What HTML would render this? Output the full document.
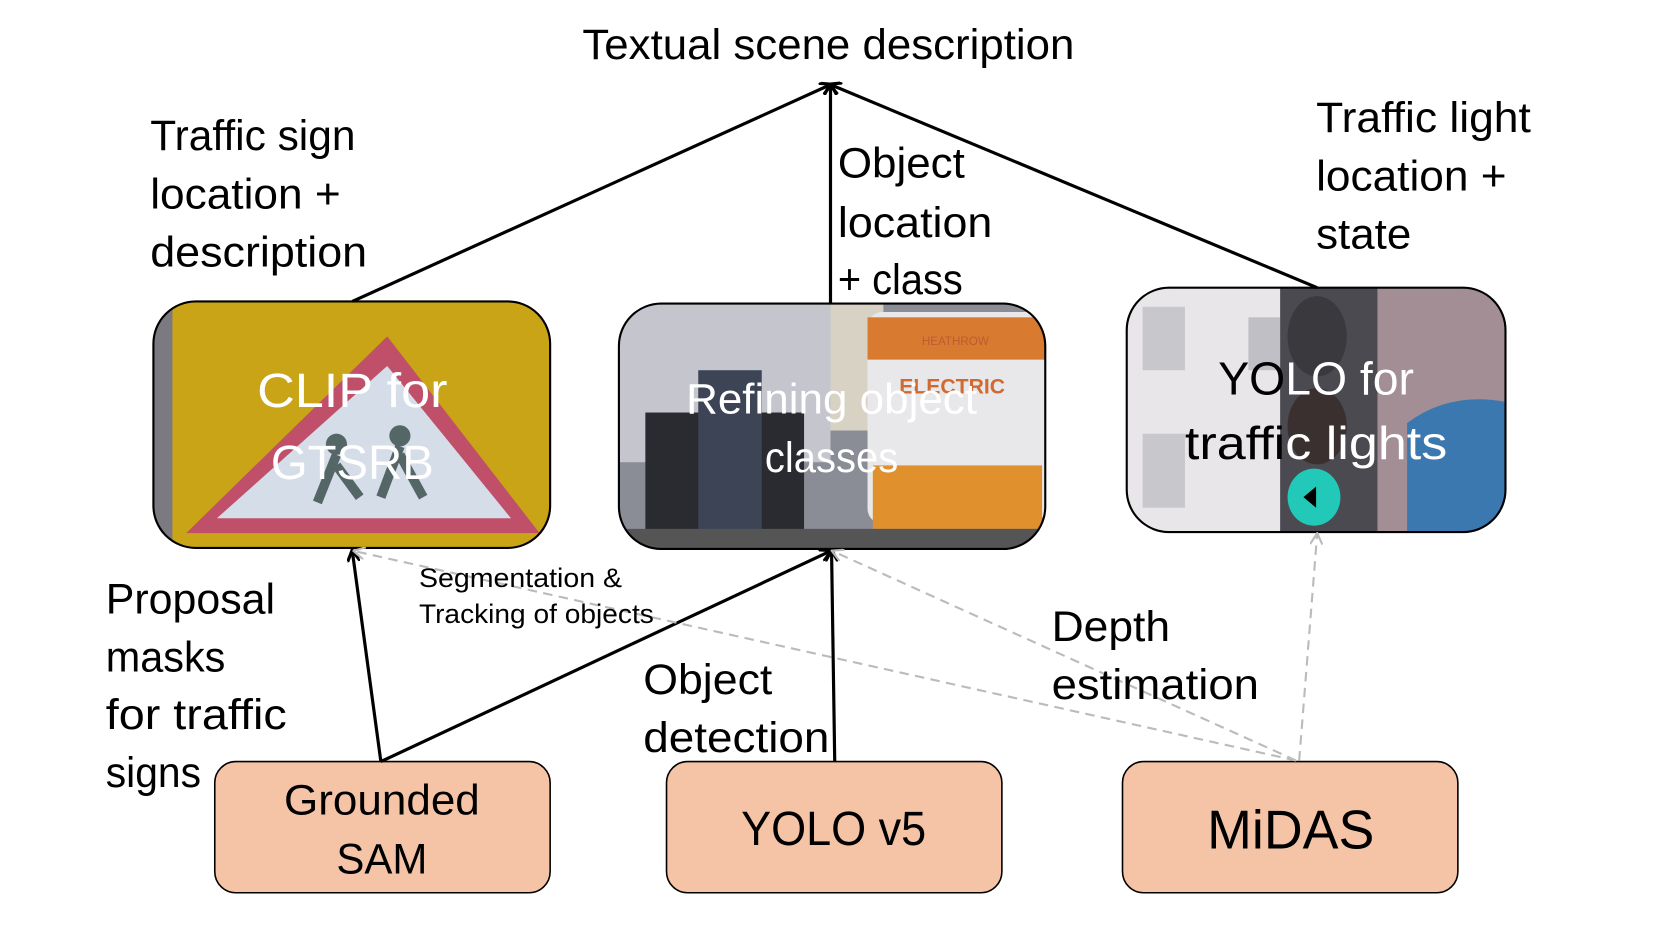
<!DOCTYPE html>
<html><head><meta charset="utf-8"><style>
html,body{margin:0;padding:0;background:#fff;width:1661px;height:934px;overflow:hidden}
svg{display:block}
text{font-family:"Liberation Sans",sans-serif}
</style></head><body>
<svg width="1661" height="934" viewBox="0 0 1570 883" preserveAspectRatio="none" xmlns="http://www.w3.org/2000/svg">
<defs>
<marker id="ah" markerWidth="12" markerHeight="12" refX="10" refY="6" orient="auto" markerUnits="userSpaceOnUse"><path d="M0,0 L11,6 L0,12" fill="none" stroke="#000" stroke-width="3"/></marker>
<marker id="ahg" markerWidth="12" markerHeight="12" refX="10" refY="6" orient="auto" markerUnits="userSpaceOnUse"><path d="M0,0 L11,6 L0,12" fill="none" stroke="#bbb" stroke-width="2"/></marker>
<clipPath id="c1"><rect x="145" y="285" width="375" height="233" rx="40"/></clipPath>
<clipPath id="c2"><rect x="585" y="287" width="403" height="232" rx="40"/></clipPath>
<clipPath id="c3"><rect x="1065" y="272" width="358" height="231" rx="40"/></clipPath>
<linearGradient id="bw" gradientUnits="userSpaceOnUse" x1="1000" y1="0" x2="1500" y2="0">
<stop offset="0.426" stop-color="#000"/><stop offset="0.426" stop-color="#fff"/>
</linearGradient>
</defs>

<!-- Box 1 CLIP -->
<g clip-path="url(#c1)">
<rect x="145" y="285" width="375" height="233" fill="#c9a416"/>
<rect x="145" y="285" width="18" height="233" fill="#7a7a80"/>
<polygon points="366,318 510,504 176,504" fill="#c0506a"/>
<polygon points="366,346 483,490 205,490" fill="#d5dde8"/>
<circle cx="318" cy="420" r="10" fill="#566"/><circle cx="378" cy="412" r="10" fill="#566"/>
<path d="M318,430 L300,475 M318,440 L340,470 M378,422 L360,470 M378,430 L400,470" stroke="#566" stroke-width="9"/>
</g>
<rect x="145" y="285" width="375" height="233" rx="40" fill="none" stroke="#000" stroke-width="2"/>
<text x="333" y="385" font-size="46" fill="#fff" text-anchor="middle" textLength="180" lengthAdjust="spacingAndGlyphs">CLIP for</text>
<text x="333" y="453" font-size="46" fill="#fff" text-anchor="middle" textLength="154" lengthAdjust="spacingAndGlyphs">GTSRB</text>

<!-- Box 2 street -->
<g clip-path="url(#c2)">
<rect x="585" y="287" width="403" height="232" fill="#8a8c96"/>
<rect x="585" y="287" width="200" height="150" fill="#c4c5cd"/>
<rect x="785" y="287" width="50" height="120" fill="#d8d2c4"/>
<rect x="610" y="390" width="150" height="130" fill="#2a2b30"/>
<rect x="660" y="350" width="60" height="170" fill="#3c4456"/>
<rect x="820" y="295" width="168" height="200" rx="14" fill="#e8e8ea"/>
<rect x="820" y="300" width="168" height="40" fill="#d87a30"/>
<rect x="825" y="440" width="160" height="60" fill="#e0902c"/>
<text x="903" y="326" font-size="11" fill="#c05a30" text-anchor="middle">HEATHROW</text>
<text x="900" y="372" font-size="20" fill="#d06a30" text-anchor="middle" font-weight="bold">ELECTRIC</text>
<rect x="585" y="500" width="403" height="19" fill="#555"/>
</g>
<rect x="585" y="287" width="403" height="232" rx="40" fill="none" stroke="#000" stroke-width="2"/>
<text x="786" y="391" font-size="40" fill="#fff" text-anchor="middle" textLength="275" lengthAdjust="spacingAndGlyphs">Refining object</text>
<text x="786" y="446" font-size="40" fill="#fff" text-anchor="middle" textLength="126" lengthAdjust="spacingAndGlyphs">classes</text>

<!-- Box 3 traffic light -->
<g clip-path="url(#c3)">
<rect x="1065" y="272" width="358" height="231" fill="#e9e6ea"/>
<rect x="1300" y="272" width="123" height="231" fill="#a48e96"/>
<rect x="1080" y="290" width="40" height="60" fill="#c8c8cc"/>
<rect x="1080" y="410" width="40" height="70" fill="#c8c8cc"/>
<rect x="1180" y="300" width="30" height="50" fill="#bfbfc5"/>
<path d="M1330,503 L1330,400 Q1370,370 1423,380 L1423,503 Z" fill="#3c78b0"/>
<rect x="1210" y="272" width="92" height="231" fill="#4a4a50"/>
<ellipse cx="1245" cy="318" rx="28" ry="38" fill="#3a3a3e"/>
<ellipse cx="1245" cy="403" rx="28" ry="36" fill="#3a3030"/>
<ellipse cx="1242" cy="470" rx="25" ry="27" fill="#22c8b8"/>
<path d="M1232,470 L1244,460 L1244,480 Z" fill="#000"/>
</g>
<rect x="1065" y="272" width="358" height="231" rx="40" fill="none" stroke="#000" stroke-width="2"/>
<text x="1244" y="373" font-size="44" text-anchor="middle" textLength="185" lengthAdjust="spacingAndGlyphs" fill="url(#bw)">YOLO for</text>
<text x="1244" y="434" font-size="44" text-anchor="middle" textLength="248" lengthAdjust="spacingAndGlyphs" fill="url(#bw)">traffic lights</text>

<!-- Bottom boxes -->
<rect x="203" y="720" width="317" height="124" rx="20" fill="#f5c4a6" stroke="#000" stroke-width="1.5"/>
<rect x="630" y="720" width="317" height="124" rx="20" fill="#f5c4a6" stroke="#000" stroke-width="1.5"/>
<rect x="1061" y="720" width="317" height="124" rx="20" fill="#f5c4a6" stroke="#000" stroke-width="1.5"/>
<g lengthAdjust="spacingAndGlyphs">
<text x="361" y="770" font-size="40" text-anchor="middle" textLength="185" lengthAdjust="spacingAndGlyphs">Grounded</text>
<text x="361" y="826" font-size="40" text-anchor="middle" textLength="86" lengthAdjust="spacingAndGlyphs">SAM</text>
<text x="788" y="799" font-size="46" text-anchor="middle" textLength="175" lengthAdjust="spacingAndGlyphs">YOLO v5</text>
<text x="1220" y="802" font-size="52" text-anchor="middle" textLength="158" lengthAdjust="spacingAndGlyphs">MiDAS</text>
</g>

<!-- Connectors -->
<g stroke="#000" stroke-width="3" fill="none">
<line x1="333" y1="285" x2="785" y2="80" marker-end="url(#ah)"/>
<line x1="785" y1="287" x2="785" y2="80" marker-end="url(#ah)"/>
<line x1="1245" y1="272" x2="785" y2="80" marker-end="url(#ah)"/>
<line x1="360" y1="720" x2="333" y2="521" marker-end="url(#ah)"/>
<line x1="360" y1="720" x2="785" y2="521" marker-end="url(#ah)"/>
<line x1="789" y1="720" x2="786" y2="521" marker-end="url(#ah)"/>
</g>
<g stroke="#bbb" stroke-width="2" stroke-dasharray="9,6" fill="none">
<line x1="1225" y1="719" x2="335" y2="521" marker-end="url(#ahg)"/>
<line x1="1225" y1="719" x2="787" y2="521" marker-end="url(#ahg)"/>
<line x1="1228" y1="719" x2="1245" y2="505" marker-end="url(#ahg)"/>
</g>

<!-- Labels -->
<text x="783" y="56" font-size="40" text-anchor="middle" textLength="465" lengthAdjust="spacingAndGlyphs">Textual scene description</text>
<g font-size="40">
<text x="142" y="142" textLength="194" lengthAdjust="spacingAndGlyphs">Traffic sign</text>
<text x="142" y="197" textLength="180" lengthAdjust="spacingAndGlyphs">location +</text>
<text x="142" y="252" textLength="205" lengthAdjust="spacingAndGlyphs">description</text>
<text x="792" y="168" textLength="120" lengthAdjust="spacingAndGlyphs">Object</text>
<text x="792" y="224" textLength="146" lengthAdjust="spacingAndGlyphs">location</text>
<text x="792" y="278" textLength="118" lengthAdjust="spacingAndGlyphs">+ class</text>
<text x="1244" y="125" textLength="203" lengthAdjust="spacingAndGlyphs">Traffic light</text>
<text x="1244" y="180" textLength="180" lengthAdjust="spacingAndGlyphs">location +</text>
<text x="1244" y="235" textLength="90" lengthAdjust="spacingAndGlyphs">state</text>
<text x="100" y="580" textLength="160" lengthAdjust="spacingAndGlyphs">Proposal</text>
<text x="100" y="635" textLength="113" lengthAdjust="spacingAndGlyphs">masks</text>
<text x="100" y="689" textLength="171" lengthAdjust="spacingAndGlyphs">for traffic</text>
<text x="100" y="744" textLength="90" lengthAdjust="spacingAndGlyphs">signs</text>
<text x="608" y="656" textLength="122" lengthAdjust="spacingAndGlyphs">Object</text>
<text x="608" y="711" textLength="176" lengthAdjust="spacingAndGlyphs">detection</text>
<text x="994" y="606" textLength="112" lengthAdjust="spacingAndGlyphs">Depth</text>
<text x="994" y="661" textLength="196" lengthAdjust="spacingAndGlyphs">estimation</text>
</g>
<text x="396" y="555" font-size="25" textLength="192" lengthAdjust="spacingAndGlyphs">Segmentation &amp;</text>
<text x="396" y="589" font-size="25" textLength="222" lengthAdjust="spacingAndGlyphs">Tracking of objects</text>
</svg>
</body></html>
